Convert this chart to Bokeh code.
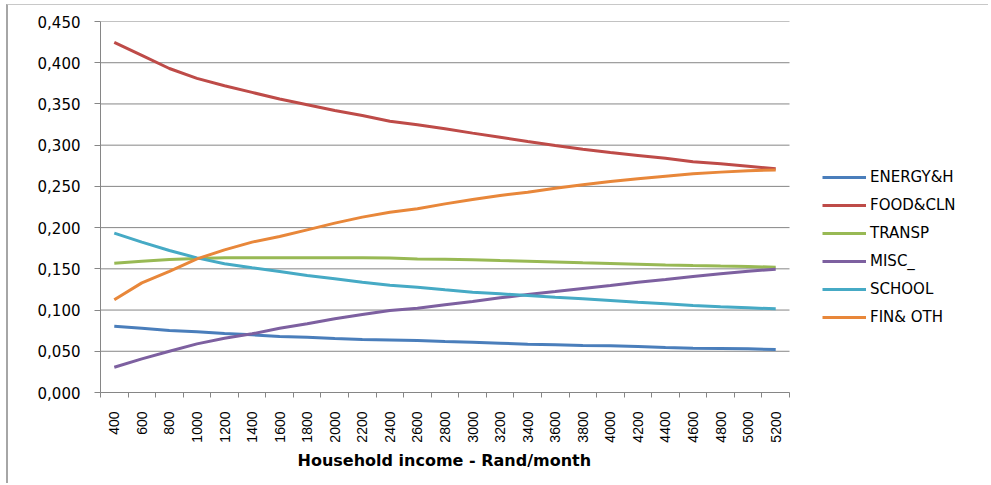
import math
from bokeh.plotting import figure
from bokeh.models import (Range1d, FixedTicker, CustomJSTickFormatter, Legend, LegendItem, Title)
from bokeh.embed import file_html
from bokeh.resources import INLINE

income = [400, 600, 800, 1000, 1200, 1400, 1600, 1800, 2000, 2200, 2400, 2600, 2800,
          3000, 3200, 3400, 3600, 3800, 4000, 4200, 4400, 4600, 4800, 5000, 5200]

energy_h = [0.0805, 0.0780, 0.0752, 0.0736, 0.0716, 0.0700, 0.0680, 0.0671, 0.0655, 0.0642,
            0.0637, 0.0631, 0.0619, 0.0610, 0.0598, 0.0586, 0.0578, 0.0570, 0.0566, 0.0558,
            0.0546, 0.0538, 0.0534, 0.0530, 0.0522]
food_cln = [0.4246, 0.4090, 0.3930, 0.3810, 0.3720, 0.3640, 0.3560, 0.3490, 0.3420, 0.3360,
            0.3290, 0.3247, 0.3200, 0.3146, 0.3097, 0.3045, 0.2996, 0.2950, 0.2910, 0.2875,
            0.2840, 0.2800, 0.2774, 0.2745, 0.2713]
transp = [0.1569, 0.1593, 0.1613, 0.1625, 0.1633, 0.1635, 0.1635, 0.1635, 0.1633, 0.1633,
          0.1630, 0.1620, 0.1615, 0.1610, 0.1600, 0.1593, 0.1583, 0.1573, 0.1565, 0.1557,
          0.1548, 0.1540, 0.1533, 0.1528, 0.1520]
misc_ = [0.0307, 0.0408, 0.0501, 0.0590, 0.0659, 0.0712, 0.0780, 0.0833, 0.0894, 0.0946,
         0.0995, 0.1023, 0.1064, 0.1104, 0.1148, 0.1189, 0.1225, 0.1262, 0.1298, 0.1338,
         0.1371, 0.1407, 0.1440, 0.1472, 0.1496]
school = [0.1933, 0.1824, 0.1722, 0.1633, 0.1561, 0.1512, 0.1468, 0.1419, 0.1380, 0.1338,
          0.1302, 0.1278, 0.1245, 0.1217, 0.1197, 0.1177, 0.1156, 0.1136, 0.1116, 0.1095,
          0.1075, 0.1055, 0.1039, 0.1027, 0.1015]
fin_oth = [0.1124, 0.1330, 0.1470, 0.1620, 0.1730, 0.1824, 0.1892, 0.1973, 0.2054, 0.2127,
           0.2187, 0.2228, 0.2288, 0.2340, 0.2390, 0.2430, 0.2478, 0.2520, 0.2560, 0.2592,
           0.2624, 0.2653, 0.2673, 0.2690, 0.2700]

y_ticks = [0.0, 0.05, 0.1, 0.15, 0.2, 0.25, 0.3, 0.35, 0.4, 0.45]
x_title = "Household income - Rand/month"

series = [
    ("ENERGY&H", energy_h, "#4A7EBB"),
    ("FOOD&CLN", food_cln, "#BE4B48"),
    ("TRANSP", transp, "#98B954"),
    ("MISC_", misc_, "#7D60A0"),
    ("SCHOOL", school, "#46AAC5"),
    ("FIN& OTH", fin_oth, "#E8873A"),
]

step = income[1] - income[0]
x_lo = income[0] - step / 2
x_hi = income[-1] + step / 2

# layout (pixels)
W, H = 982, 479
LEFT, TOP, BOTTOM = 92, 16, 92
AXIS_PX = 689          # width of the category axis
FRAME_PX = W - LEFT    # frame reaches the right edge; legend sits in the extra room
x_end = x_lo + (x_hi - x_lo) * FRAME_PX / AXIS_PX

p = figure(width=W, height=H, output_backend="svg", toolbar_location=None,
           x_range=Range1d(x_lo, x_end), y_range=Range1d(0, 0.45),
           min_border_left=LEFT, min_border_top=TOP, min_border_right=0,
           min_border_bottom=BOTTOM)
p.styles = {"margin-left": "6px", "margin-top": "4px",
            "border-left": "2px solid #a6a6a6", "border-top": "1px solid #c8c8c8"}
p.outline_line_color = None
p.background_fill_color = "white"
p.border_fill_color = "white"

# horizontal gridlines, limited to the category axis extent
p.segment(x0=[x_lo] * len(y_ticks), x1=[x_hi] * len(y_ticks), y0=y_ticks, y1=y_ticks,
          line_color="#868686", line_width=1)

renderers = []
for name, vals, col in series:
    r = p.line(income, vals, line_color=col, line_width=3)
    renderers.append((name, r))

# x axis
boundaries = [v - step / 2 for v in income] + [income[-1] + step / 2]
p.xaxis.bounds = (x_lo, x_hi)
p.xaxis.ticker = FixedTicker(ticks=income, minor_ticks=boundaries)
p.xaxis.major_tick_out = 0
p.xaxis.major_tick_in = 0
p.xaxis.minor_tick_out = 5
p.xaxis.minor_tick_in = 0
p.xaxis.minor_tick_line_color = "#868686"
p.xaxis.axis_line_color = "#868686"
p.xaxis.major_label_orientation = math.pi / 2
p.xaxis.major_label_standoff = 14
p.xaxis.major_label_text_font = "Liberation Sans"
p.xaxis.major_label_text_font_size = "14px"
p.xaxis.major_label_text_color = "black"
p.xgrid.visible = False
p.ygrid.visible = False

# x axis title, centred under the category axis
p.add_layout(Title(text=x_title, align="left", offset=197, standoff=6,
                   text_font="DejaVu Sans", text_font_size="16px",
                   text_font_style="bold", text_color="black"), "below")

# y axis
p.yaxis.ticker = FixedTicker(ticks=y_ticks)
p.yaxis.formatter = CustomJSTickFormatter(code="return tick.toFixed(3).replace('.', ',');")
p.yaxis.major_tick_out = 6
p.yaxis.major_tick_in = 0
p.yaxis.minor_tick_out = 0
p.yaxis.minor_tick_in = 0
p.yaxis.major_tick_line_color = "#868686"
p.yaxis.axis_line_color = "#868686"
p.yaxis.major_label_standoff = 14
p.yaxis.major_label_text_font = "DejaVu Sans"
p.yaxis.major_label_text_font_size = "15px"
p.yaxis.major_label_text_color = "black"

legend = Legend(items=[LegendItem(label=n, renderers=[r]) for n, r in renderers],
                location=(722, 65), padding=0, margin=0, spacing=8,
                glyph_width=44, glyph_height=20, label_height=20, label_standoff=4,
                label_text_font="DejaVu Sans", label_text_font_size="15px",
                label_text_color="black", border_line_color=None,
                background_fill_alpha=0)
p.add_layout(legend)

open("out.html", "w").write(file_html(p, INLINE))
